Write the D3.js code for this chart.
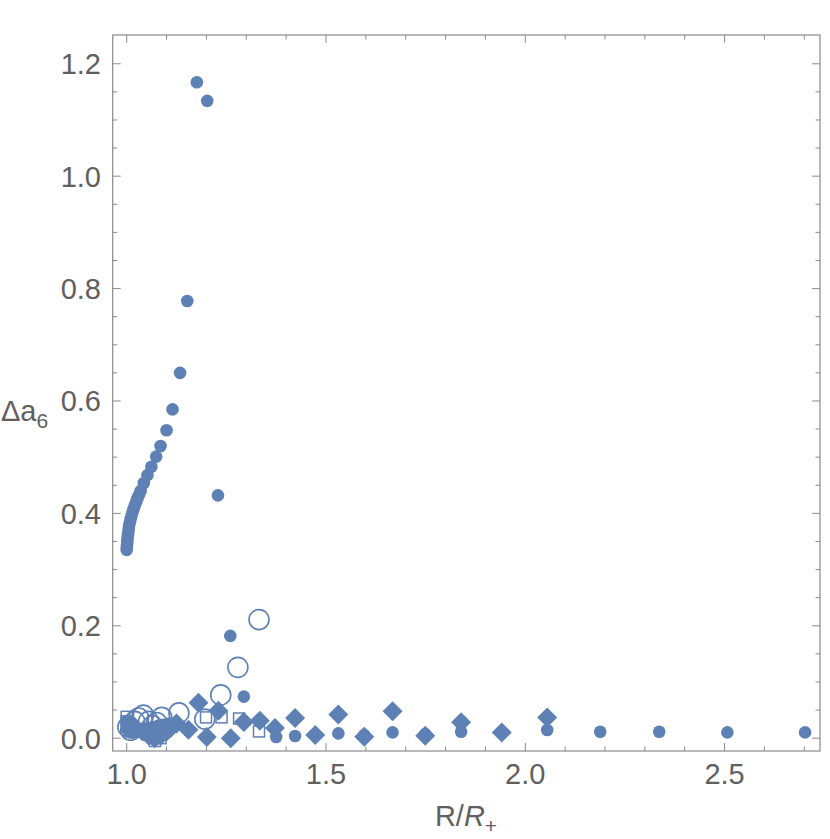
<!DOCTYPE html>
<html>
<head>
<meta charset="utf-8">
<script src="https://cdn.jsdelivr.net/npm/d3@7"></script>
<style>
  body { margin: 0; background: #fff; }
  svg { display: block; }
</style>
</head>
<body>
<div id="chart"></div>
<script>
// filled circles
const discX = [1.000, 1.0005, 1.001, 1.0015, 1.002, 1.003, 1.004, 1.005, 1.006, 1.008, 1.010, 1.012, 1.015, 1.018, 1.021, 1.024, 1.027, 1.031, 1.035, 1.043, 1.052, 1.062, 1.074, 1.085, 1.100, 1.115, 1.134,
  1.152, 1.176, 1.202, 1.229, 1.260, 1.294, 1.375, 1.4225, 1.531, 1.596, 1.667, 1.749, 1.839, 2.055, 2.188, 2.336, 2.507, 2.702,
  1.000, 1.000, 1.001, 1.002, 1.004, 1.007, 1.011, 1.016, 1.022, 1.029, 1.037, 1.046, 1.056, 1.067, 1.079, 1.092, 1.106];
const discY = [0.335, 0.340, 0.345, 0.350, 0.355, 0.360, 0.366, 0.372, 0.378, 0.384, 0.390, 0.396, 0.403, 0.409, 0.415, 0.421, 0.427, 0.433, 0.440, 0.454, 0.468, 0.483, 0.501, 0.520, 0.548, 0.585, 0.650,
  0.778, 1.167, 1.134, 0.432, 0.182, 0.074, 0.002, 0.004, 0.0085, 0.0055, 0.0103, 0.0073, 0.0115, 0.0146, 0.0115, 0.0115, 0.0103, 0.0103,
  0.030, 0.025, 0.020, 0.016, 0.013, 0.011, 0.010, 0.010, 0.011, 0.012, 0.014, 0.016, 0.018, 0.020, 0.022, 0.024, 0.026];

// open circles
const ringX = [1.003, 1.010, 1.020, 1.030, 1.042, 1.055, 1.065, 1.075, 1.088, 1.131, 1.196, 1.236, 1.279, 1.332];
const ringY = [0.020, 0.014, 0.030, 0.036, 0.041, 0.030, 0.022, 0.028, 0.037, 0.045, 0.034, 0.077, 0.126, 0.211];

// open squares
const boxX = [1.000, 1.000, 1.002, 1.071, 1.085, 1.199, 1.238, 1.282, 1.332];
const boxY = [0.038, 0.030, 0.022, -0.005, 0.000, 0.037, 0.037, 0.035, 0.012];

// filled diamonds
const diamX = [1.020, 1.040, 1.055, 1.070, 1.085, 1.100, 1.110, 1.125, 1.155, 1.180, 1.201, 1.230, 1.261, 1.294, 1.334, 1.372, 1.4225, 1.473, 1.531, 1.596, 1.667, 1.749, 1.839, 1.941, 2.055];
const diamY = [0.020, 0.012, 0.005, 0.000, 0.005, 0.012, 0.018, 0.026, 0.015, 0.063, 0.002, 0.049, 0.000, 0.029, 0.031, 0.018, 0.036, 0.0055, 0.042, 0.0025, 0.048, 0.0045, 0.0285, 0.010, 0.037];

const xMajor = [1.0, 1.5, 2.0, 2.5];
const yMajor = [0.0, 0.2, 0.4, 0.6, 0.8, 1.0, 1.2];

const W = 830, H = 839;
const pLeft = 112.7, pRight = 820, pTop = 35, pBottom = 751;
const blue = "#5e81b5";
const frameCol = "#8a8a8a";
const labelCol = "#606060";

const svg = d3.select("#chart").append("svg")
  .attr("width", W).attr("height", H);

const x = d3.scaleLinear().domain([0.9649, 2.7394]).range([pLeft, pRight]);
const y = d3.scaleLinear().domain([-0.0228, 1.2512]).range([pBottom, pTop]);

const zip = (xs, ys) => xs.map((v, i) => ({ x: v, y: ys[i] }));

// frame with inward ticks
const xMinor = d3.range(1.0, 2.75, 0.1).map(v => +v.toFixed(2)).filter(v => !xMajor.some(m => Math.abs(m - v) < 1e-6));
const yMinor = d3.range(0.0, 1.25, 0.05).map(v => +v.toFixed(2)).filter(v => !yMajor.some(m => Math.abs(m - v) < 1e-6));

const frame = svg.append("g");
frame.append("rect")
  .attr("x", pLeft).attr("y", pTop)
  .attr("width", pRight - pLeft).attr("height", pBottom - pTop)
  .attr("fill", "none").attr("stroke", frameCol).attr("stroke-width", 1.2);

function xTicks(vals, len) {
  vals.forEach(v => {
    frame.append("line").attr("x1", x(v)).attr("x2", x(v)).attr("y1", pBottom).attr("y2", pBottom - len)
      .attr("stroke", frameCol);
    frame.append("line").attr("x1", x(v)).attr("x2", x(v)).attr("y1", pTop).attr("y2", pTop + len)
      .attr("stroke", frameCol);
  });
}
function yTicks(vals, len) {
  vals.forEach(v => {
    frame.append("line").attr("y1", y(v)).attr("y2", y(v)).attr("x1", pLeft).attr("x2", pLeft + len)
      .attr("stroke", frameCol);
    frame.append("line").attr("y1", y(v)).attr("y2", y(v)).attr("x1", pRight).attr("x2", pRight - len)
      .attr("stroke", frameCol);
  });
}
xTicks(xMajor, 8); xTicks(xMinor, 4.5);
yTicks(yMajor, 8); yTicks(yMinor, 4.5);

const font = "'Liberation Sans', Arial, sans-serif";
svg.append("g").selectAll("text").data(xMajor).join("text")
  .attr("x", d => x(d)).attr("y", 784)
  .attr("text-anchor", "middle")
  .attr("font-family", font).attr("font-size", 29).attr("fill", labelCol)
  .text(d => d.toFixed(1));
svg.append("g").selectAll("text").data(yMajor).join("text")
  .attr("x", 101).attr("y", d => y(d) + 10.5)
  .attr("text-anchor", "end")
  .attr("font-family", font).attr("font-size", 29).attr("fill", labelCol)
  .text(d => d.toFixed(1));

// axis labels
const yl = svg.append("text").attr("x", 1).attr("y", 421)
  .attr("font-family", font).attr("font-size", 29).attr("fill", labelCol);
yl.append("tspan").text("Δa");
yl.append("tspan").attr("font-size", 21).attr("dy", 7).text("6");

const xl = svg.append("text").attr("x", 466).attr("y", 826).attr("text-anchor", "middle")
  .attr("font-family", font).attr("font-size", 29).attr("fill", labelCol);
xl.append("tspan").text("R/");
xl.append("tspan").attr("font-style", "italic").text("R");
xl.append("tspan").attr("font-size", 21).attr("dy", 7).text("+");

// markers
const plot = svg.append("g");

plot.selectAll(".disc").data(zip(discX, discY)).join("circle")
  .attr("cx", d => x(d.x)).attr("cy", d => y(d.y)).attr("r", 6.3)
  .attr("fill", blue);

plot.selectAll(".ring").data(zip(ringX, ringY)).join("circle")
  .attr("cx", d => x(d.x)).attr("cy", d => y(d.y)).attr("r", 10)
  .attr("fill", "none").attr("stroke", blue).attr("stroke-width", 1.6);

plot.selectAll(".box").data(zip(boxX, boxY)).join("rect")
  .attr("x", d => x(d.x) - 5.5).attr("y", d => y(d.y) - 5.5)
  .attr("width", 11).attr("height", 11)
  .attr("fill", "none").attr("stroke", blue).attr("stroke-width", 1.5);

const diamond = d3.symbol(d3.symbolSquare, 200);
plot.selectAll(".diam").data(zip(diamX, diamY)).join("path")
  .attr("d", diamond)
  .attr("transform", d => "translate(" + x(d.x) + "," + y(d.y) + ") rotate(45)")
  .attr("fill", blue);
</script>
</body>
</html>
